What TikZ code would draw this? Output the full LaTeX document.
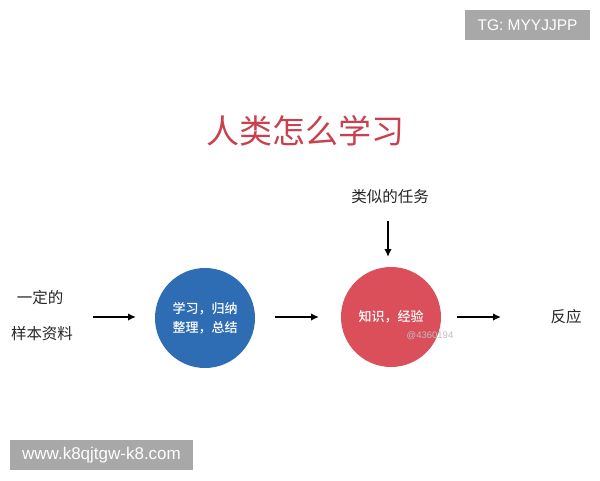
\documentclass[tikz,border=0pt]{standalone}
\usepackage{fontspec}
\setmainfont{Liberation Sans}
\newfontfamily\cjk{Noto Sans CJK SC}
\newfontfamily\cjkm{Noto Sans CJK SC Medium}
\usetikzlibrary{arrows.meta}
\definecolor{titlered}{HTML}{C8414F}
\definecolor{circblue}{HTML}{2E6DB4}
\definecolor{circred}{HTML}{DA4F5A}
\definecolor{boxgray}{HTML}{A8A8A8}
\tikzset{
  lbl/.style={font=\cjk\fontsize{15.5}{18}\selectfont, text=black!85},
  circ/.style={circle, minimum size=100pt, inner sep=0pt, text=white, align=center, font=\cjkm\fontsize{13}{19.5}\selectfont},
  arr/.style={-{Latex[length=8pt,width=7.5pt]}, line width=1.9pt, black},
  tag/.style={fill=boxgray, text=white, inner sep=0pt}
}
\begin{document}
\begin{tikzpicture}[x=1pt,y=-1pt]
\useasboundingbox (0,0) rectangle (600,480);
\fill[white] (0,0) rectangle (600,480);
% tags
\node[tag, minimum width=125pt, minimum height=30pt, font=\fontsize{15.5}{17}\selectfont] (tg) at (527.5,25) {TG: MYYJJPP};
\node[tag, minimum width=183pt, minimum height=30pt, font=\fontsize{17}{19}\selectfont] (www) at (101.5,455) {www.k8qjtgw-k8.com};
% title
\node[font=\cjk\fontsize{33}{36}\selectfont, text=titlered] (title) at (305,131) {人类怎么学习};
% left
\node[lbl] (in1) at (40,298) {一定的};
\node[lbl] (in2) at (42,334) {样本资料};
\coordinate (a1s) at (93,317);
% circles
\node[circ, fill=circblue] (learn) at (205,318) {学习，归纳\\整理，总结};
\node[circ, fill=circred] (know) at (391,317) {知识，经验};
\node[font=\fontsize{9.5}{10}\selectfont, text=black!25] (wm) at (430,336) {@4360194};
% top task
\node[lbl] (task) at (390,197) {类似的任务};
% output
\node[lbl] (out) at (566,317) {反应};
% arrows
\coordinate (a1e) at (136,317);
\draw[arr] (a1s) -- (a1e);
\coordinate (a2s) at (275,317);
\coordinate (a2e) at (319,317);
\draw[arr] (a2s) -- (a2e);
\coordinate (a3s) at (457,317);
\coordinate (a3e) at (501,317);
\draw[arr] (a3s) -- (a3e);
\coordinate (a4s) at (388,221);
\coordinate (a4e) at (388,257);
\draw[arr] (a4s) -- (a4e);
\end{tikzpicture}
\end{document}
